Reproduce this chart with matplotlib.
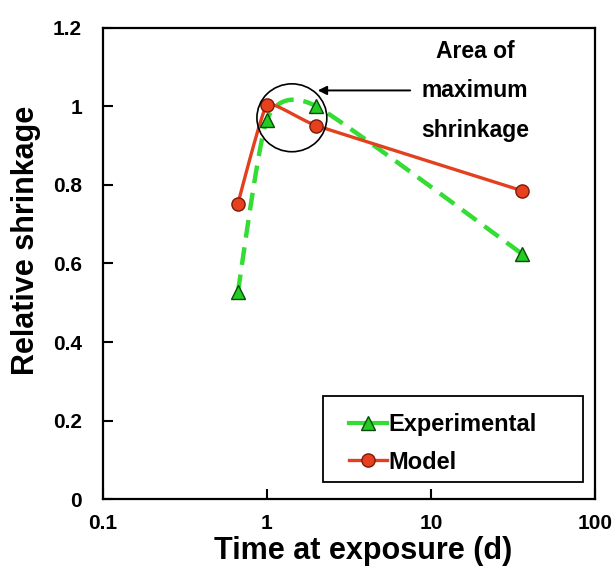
import numpy as np
from matplotlib import pyplot as plt
from matplotlib.patches import Ellipse, Rectangle

plt.rcParams["font.family"] = "Liberation Sans"
plt.rcParams["font.weight"] = "bold"

time_exp = [0.665, 1.0, 2.0, 36.0]
shrink_exp = [0.527, 0.966, 1.0, 0.624]

time_model = [0.665, 1.0, 2.0, 36.0]
shrink_model = [0.752, 1.004, 0.951, 0.785]

xticks = [0.1, 1, 10, 100]
xtick_labels = ['0.1', '1', '10', '100']
yticks = [0, 0.2, 0.4, 0.6, 0.8, 1.0, 1.2]
ytick_labels = ['0', '0.2', '0.4', '0.6', '0.8', '1', '1.2']


def smooth(xs, ys, k=1 / 6, n=40):
    # spreadsheet-style smoothed line (cubic bezier through points, log x)
    p = np.column_stack([np.log10(xs), ys])
    out = []
    for i in range(len(p) - 1):
        p0 = p[i - 1] if i > 0 else p[i]
        p3 = p[i + 2] if i + 2 < len(p) else p[i + 1]
        c1 = p[i] + (p[i + 1] - p0) * k
        c2 = p[i + 1] - (p3 - p[i]) * k
        t = np.linspace(0, 1, n)[:, None]
        seg = ((1 - t) ** 3 * p[i] + 3 * (1 - t) ** 2 * t * c1
               + 3 * (1 - t) * t ** 2 * c2 + t ** 3 * p[i + 1])
        out.append(seg if i == 0 else seg[1:])
    out = np.vstack(out)
    return 10 ** out[:, 0], out[:, 1]


fig = plt.figure(figsize=(6.16, 5.66), dpi=100)
ax = fig.add_axes([0.167, 0.118, 0.799, 0.833])

green = '#33dd33'
red = '#e2401e'
gkw = dict(marker='^', ms=9.5, mfc='#22cc22', mec='#0a4a0a', mew=1.0)
rkw = dict(marker='o', ms=9.5, mfc='#e8401c', mec='#7a1a0a', mew=1.0)

ax.plot(*smooth(time_exp, shrink_exp, k=0.1), color=green, lw=3.2,
        ls=(0, (4, 2.2)), zorder=2)
ax.plot(time_exp, shrink_exp, ls='none', zorder=4, **gkw)
ax.plot(*smooth(time_model, shrink_model, k=0.06), color=red, lw=2.4, zorder=3)
ax.plot(time_model, shrink_model, ls='none', zorder=5, **rkw)

# legend proxies
ax.plot([], [], color=green, lw=3, label='Experimental', **gkw)
ax.plot([], [], color=red, lw=2.4, label='Model', **rkw)

ax.add_patch(Ellipse((0.384, 0.809), 0.142, 0.144, transform=ax.transAxes,
                     fill=False, ec='black', lw=1.2, zorder=6))
ax.annotate('', xy=(0.431, 0.867), xytext=(0.630, 0.867),
            xycoords='axes fraction', textcoords='axes fraction',
            arrowprops=dict(arrowstyle='-|>', color='black', lw=1.4, mutation_scale=13))
ax.text(0.756, 0.866, 'Area of\nmaximum\nshrinkage', transform=ax.transAxes,
        ha='center', va='center', fontsize=16.5, fontweight='bold', linespacing=1.9)

ax.set_xscale('log')
ax.set_xlim(0.1, 100)
ax.set_ylim(0, 1.2)
ax.set_xticks(xticks)
ax.set_xticklabels(xtick_labels)
ax.set_yticks(yticks)
ax.set_yticklabels(ytick_labels)
ax.minorticks_off()
ax.tick_params(direction='in', length=7, width=1.5, labelsize=15)
ax.tick_params(axis='x', pad=11)
ax.tick_params(axis='y', pad=15)
for s in ax.spines.values():
    s.set_linewidth(1.6)

ax.set_xlabel('Time at exposure (d)', fontsize=22, fontweight='bold')
ax.set_ylabel('Relative shrinkage', fontsize=22, fontweight='bold')
ax.xaxis.set_label_coords(0.528, -0.078)
ax.yaxis.set_label_coords(-0.126, 0.55)

ax.add_patch(Rectangle((0.447, 0.036), 0.529, 0.183, transform=ax.transAxes,
                       fill=True, fc='white', ec='black', lw=1.3, zorder=7))
leg = ax.legend(loc='upper left', bbox_to_anchor=(0.476, 0.208), fontsize=17,
                handlelength=1.6, handletextpad=0.05, borderpad=0, labelspacing=0.62,
                frameon=False)
leg.set_zorder(8)
for t in leg.get_texts():
    t.set_fontweight('bold')

fig.savefig('out.png', dpi=100)
